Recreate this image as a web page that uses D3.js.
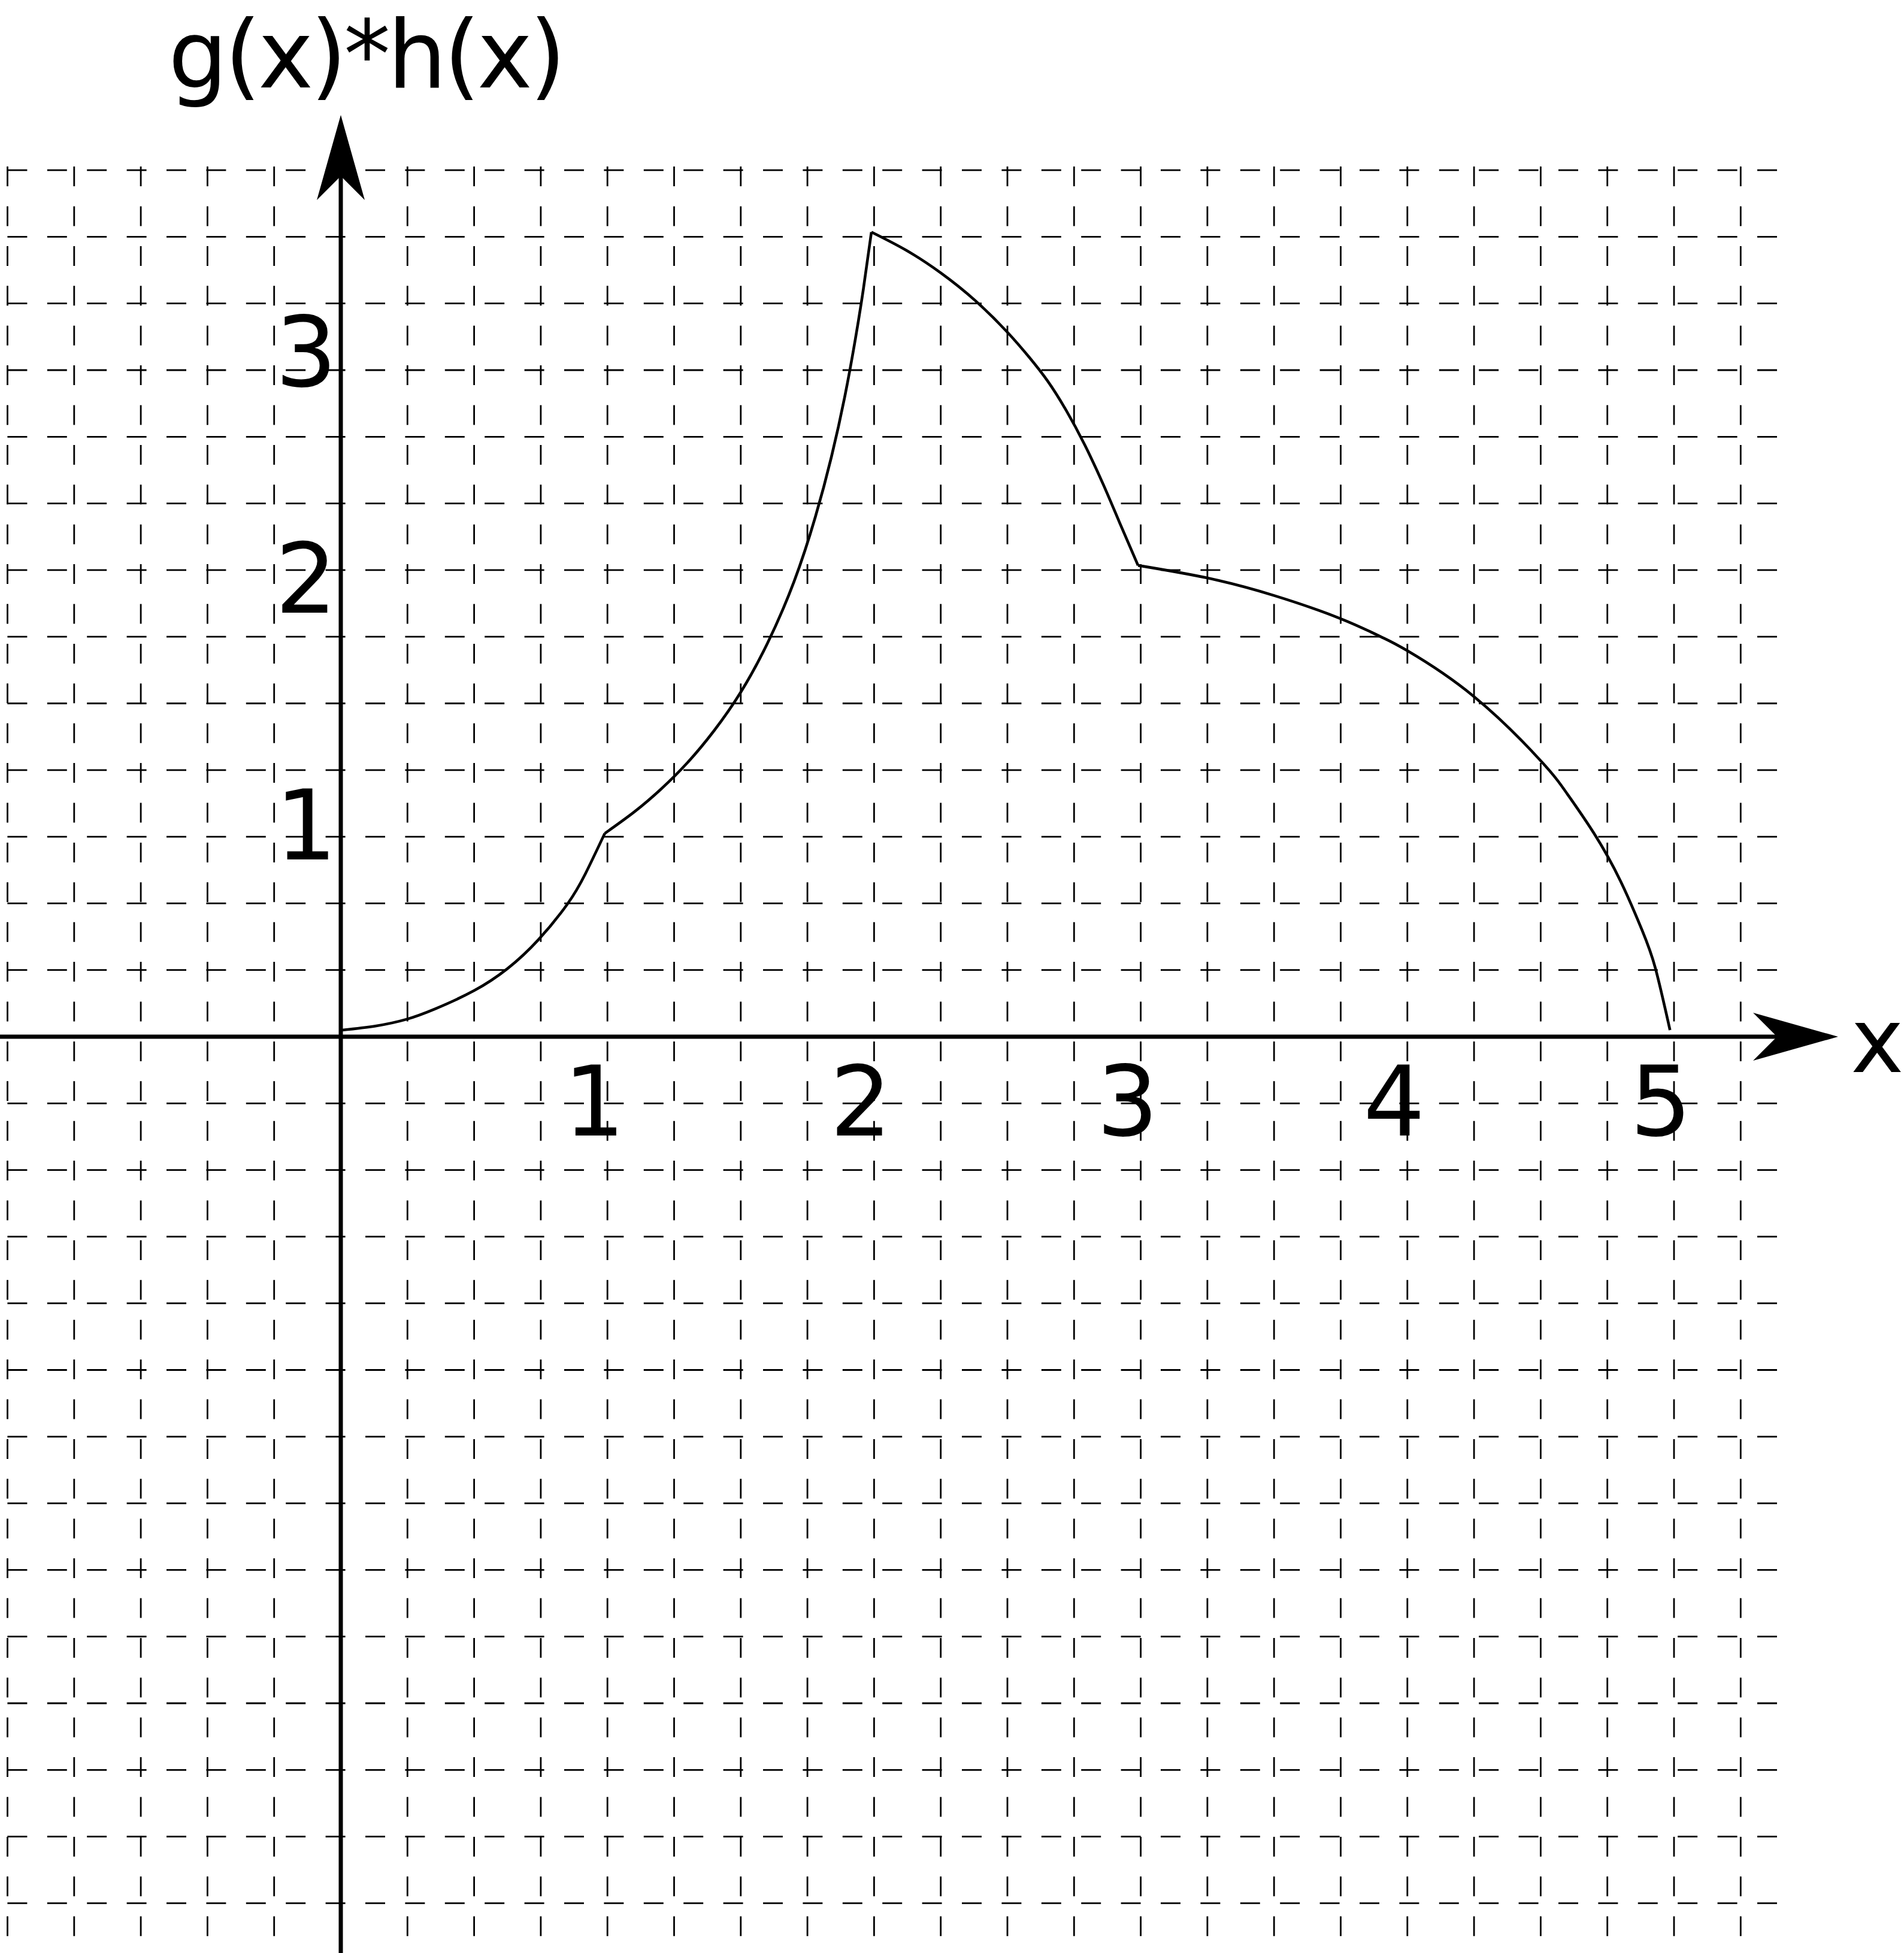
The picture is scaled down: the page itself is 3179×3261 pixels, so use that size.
<!DOCTYPE html>
<html>
<head>
<meta charset="utf-8">
<script src="https://cdn.jsdelivr.net/npm/d3@7"></script>
<style>
  html, body { margin: 0; padding: 0; background: #ffffff; }
  svg { display: block; }
  text { font-family: "DejaVu Sans", sans-serif; fill: #000; }
</style>
</head>
<body>
<script>
// ---------------- data ----------------
const xTickValues = [1, 2, 3, 4, 5];
const xTickLabels = ["1", "2", "3", "4", "5"];
const yTickValues = [1, 2, 3];
const yTickLabels = ["1", "2", "3"];
// where the y labels sit on the square grid (in grid cells above the x axis)
const yTickCells = [0, 3.2, 6.9, 10.3];

const xSeg1 = [0.005, 0.13, 0.245, 0.355, 0.5, 0.625, 0.74, 0.85, 0.917, 0.99];
const ySeg1 = [0.031, 0.050, 0.081, 0.131, 0.216, 0.319, 0.453, 0.622, 0.763, 0.953];
const xSeg2 = [0.99, 1.10, 1.20, 1.30, 1.40, 1.50, 1.60, 1.70, 1.78, 1.84, 1.89, 1.93, 1.96, 1.99];
const ySeg2 = [0.953, 1.046, 1.138, 1.246, 1.376, 1.532, 1.730, 1.981, 2.265, 2.529, 2.794, 3.050, 3.271, 3.521];
const xSeg3 = [1.99, 2.12, 2.25, 2.38, 2.50, 2.58, 2.65, 2.72, 2.79, 2.86, 2.92, 2.99];
const ySeg3 = [3.521, 3.441, 3.341, 3.218, 3.079, 2.971, 2.865, 2.735, 2.582, 2.406, 2.241, 2.050];
const xSeg4 = [2.99, 3.25, 3.5, 3.75, 3.9, 4.0, 4.25, 4.5, 4.6, 4.7, 4.8, 4.88, 4.93, 4.985];
const ySeg4 = [2.050, 1.995, 1.924, 1.830, 1.757, 1.700, 1.514, 1.254, 1.119, 0.953, 0.728, 0.500, 0.322, 0.031];

const xGridValues = d3.range(-5, 22).map(i => i * 0.25);   // vertical dashed lines
const yGridCells = d3.range(-13, 14);                       // horizontal dashed lines

const yTitle = "g(x)*h(x)";
const xTitle = "x";

// ---------------- layout ----------------
const W = 3179, H = 3261;
const originX = 569, originY = 1731, cell = 111.3;

const x = d3.scaleLinear().domain([0, 1]).range([originX, originX + 4 * cell]);
const gridY = d3.scaleLinear().domain([0, 1]).range([originY, originY - cell]);
const y = d3.scaleLinear().domain([0, 1, 2, 3]).range(yTickCells.map(gridY));

const svg = d3.select("body").append("svg")
  .attr("width", W).attr("height", H)
  .attr("viewBox", `0 0 ${W} ${H}`);

svg.append("rect").attr("width", W).attr("height", H).attr("fill", "#fff");

// ---------------- grid ----------------
const gridTop = gridY(13);
const gridRight = 2975;
const g = svg.append("g").attr("stroke", "#000").attr("stroke-width", 2.8)
  .attr("fill", "none").attr("stroke-dasharray", "33 33.4");

g.selectAll("line.h").data(yGridCells).join("line").attr("class", "h")
  .attr("x1", 0).attr("x2", gridRight)
  .attr("y1", d => gridY(d)).attr("y2", d => gridY(d))
  .attr("stroke-dashoffset", 54);

g.selectAll("line.v").data(xGridValues).join("line").attr("class", "v")
  .attr("x1", d => x(d)).attr("x2", d => x(d))
  .attr("y1", gridTop - 6).attr("y2", H)
  .attr("stroke-dashoffset", 0);

// ---------------- axes ----------------
const axW = 7;
const xTip = 3069, yTip = 192;
const arrLen = 142, arrHalf = 40, arrNotch = 102;

svg.append("line").attr("x1", 0).attr("x2", xTip - arrNotch)
  .attr("y1", originY).attr("y2", originY)
  .attr("stroke", "#000").attr("stroke-width", axW);
svg.append("line").attr("x1", originX).attr("x2", originX)
  .attr("y1", H).attr("y2", yTip + arrNotch)
  .attr("stroke", "#000").attr("stroke-width", axW);

svg.append("path")
  .attr("d", `M${xTip},${originY} L${xTip - arrLen},${originY - arrHalf} L${xTip - arrNotch},${originY} L${xTip - arrLen},${originY + arrHalf} Z`)
  .attr("fill", "#000");
svg.append("path")
  .attr("d", `M${originX},${yTip} L${originX - arrHalf},${yTip + arrLen} L${originX},${yTip + arrNotch} L${originX + arrHalf},${yTip + arrLen} Z`)
  .attr("fill", "#000");

// ---------------- tick labels ----------------
const fs = 162;
svg.selectAll("text.xt").data(xTickValues).join("text").attr("class", "xt")
  .attr("x", d => x(d) - 22).attr("y", originY + 165)
  .attr("text-anchor", "middle").attr("font-size", fs)
  .text((d, i) => xTickLabels[i]);

svg.selectAll("text.yt").data(yTickValues).join("text").attr("class", "yt")
  .attr("x", originX - 58).attr("y", d => y(d) + 60)
  .attr("text-anchor", "middle").attr("font-size", fs)
  .text((d, i) => yTickLabels[i]);

svg.append("text").attr("x", 3090).attr("y", 1790)
  .attr("font-size", 150).text(xTitle);
svg.append("text").attr("x", 281).attr("y", 146)
  .attr("font-size", 156).attr("letter-spacing", -5).text(yTitle);

// ---------------- curve ----------------
const line = d3.line().x(d => x(d[0])).y(d => y(d[1])).curve(d3.curveNatural);
const segs = [[xSeg1, ySeg1], [xSeg2, ySeg2], [xSeg3, ySeg3], [xSeg4, ySeg4]]
  .map(([xs, ys]) => xs.map((v, i) => [v, ys[i]]));

svg.selectAll("path.curve").data(segs).join("path").attr("class", "curve")
  .attr("d", line)
  .attr("fill", "none").attr("stroke", "#000").attr("stroke-width", 4.6)
  .attr("stroke-linejoin", "miter");
</script>
</body>
</html>
